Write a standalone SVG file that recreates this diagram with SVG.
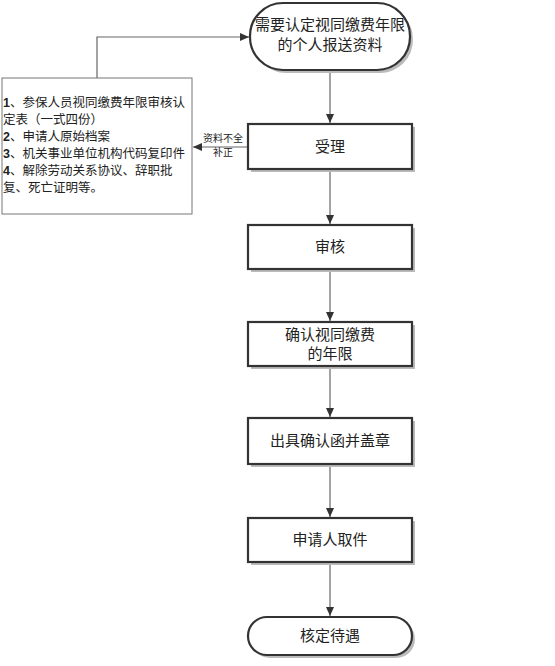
<svg xmlns="http://www.w3.org/2000/svg" width="555" height="666" viewBox="0 0 555 666">
<style>
.n{fill:#fff;stroke:#333;stroke-width:2.2}
.sh{fill:#bbb}
.t{font-family:"Liberation Sans","Noto Sans CJK SC",sans-serif;font-size:15px;fill:#222;text-anchor:middle}
.s{font-family:"Liberation Sans","Noto Sans CJK SC",sans-serif;font-size:12.5px;fill:#222}
.l{font-family:"Liberation Sans","Noto Sans CJK SC",sans-serif;font-size:10px;fill:#222;text-anchor:middle}
.c{fill:none;stroke:#666;stroke-width:1.2}
</style>
<defs>
<marker id="a" markerWidth="10" markerHeight="10" refX="9" refY="5" orient="auto" markerUnits="userSpaceOnUse">
<path d="M0,1 L9,5 L0,9 Z" fill="#333"/>
</marker>
</defs>
<rect width="555" height="666" fill="#fff"/>
<g id="connectors">
<path class="c" d="M330,70 V123" marker-end="url(#a)"/>
<path class="c" d="M330,169 V224" marker-end="url(#a)"/>
<path class="c" d="M330,269 V321" marker-end="url(#a)"/>
<path class="c" d="M330,366 V417" marker-end="url(#a)"/>
<path class="c" d="M330,464 V517" marker-end="url(#a)"/>
<path class="c" d="M330,562 V616" marker-end="url(#a)"/>
<path class="c" d="M248,147 H193" marker-end="url(#a)"/>
<path class="c" d="M97,78 V37 H249" marker-end="url(#a)"/>
<text class="l" x="223" y="142">资料不全</text>
<text class="l" x="223" y="156">补正</text>
</g>
<g id="start">
<rect class="sh" x="253" y="6" width="160" height="67" rx="33"/>
<rect class="n" x="250" y="3" width="160" height="67" rx="33"/>
<text class="t" x="330" y="30">需要认定视同缴费年限</text>
<text class="t" x="330" y="50">的个人报送资料</text>
</g>
<g id="materials">
<rect x="2" y="78" width="190" height="136" fill="#fff" stroke="#777" stroke-width="1"/>
<text class="s" x="3" y="107"><tspan font-weight="bold">1</tspan>、参保人员视同缴费年限审核认</text>
<text class="s" x="3" y="124">定表（一式四份）</text>
<text class="s" x="3" y="141"><tspan font-weight="bold">2</tspan>、申请人原始档案</text>
<text class="s" x="3" y="158"><tspan font-weight="bold">3</tspan>、机关事业单位机构代码复印件</text>
<text class="s" x="3" y="175"><tspan font-weight="bold">4</tspan>、解除劳动关系协议、辞职批</text>
<text class="s" x="3" y="192">复、死亡证明等。</text>
</g>
<g id="accept">
<rect class="sh" x="251" y="127" width="164" height="45"/>
<rect class="n" x="248" y="124" width="164" height="45"/>
<text class="t" x="330" y="152">受理</text>
</g>
<g id="review">
<rect class="sh" x="251" y="228" width="164" height="44"/>
<rect class="n" x="248" y="225" width="164" height="44"/>
<text class="t" x="330" y="252">审核</text>
</g>
<g id="confirm">
<rect class="sh" x="251" y="325" width="164" height="44"/>
<rect class="n" x="248" y="322" width="164" height="44"/>
<text class="t" x="330" y="340">确认视同缴费</text>
<text class="t" x="330" y="359">的年限</text>
</g>
<g id="issue">
<rect class="sh" x="251" y="421" width="164" height="46"/>
<rect class="n" x="248" y="418" width="164" height="46"/>
<text class="t" x="330" y="446">出具确认函并盖章</text>
</g>
<g id="pickup">
<rect class="sh" x="251" y="521" width="164" height="44"/>
<rect class="n" x="248" y="518" width="164" height="44"/>
<text class="t" x="330" y="545">申请人取件</text>
</g>
<g id="end">
<rect class="sh" x="251" y="620" width="164" height="38" rx="19"/>
<rect class="n" x="248" y="617" width="164" height="38" rx="19"/>
<text class="t" x="330" y="641">核定待遇</text>
</g>
</svg>
